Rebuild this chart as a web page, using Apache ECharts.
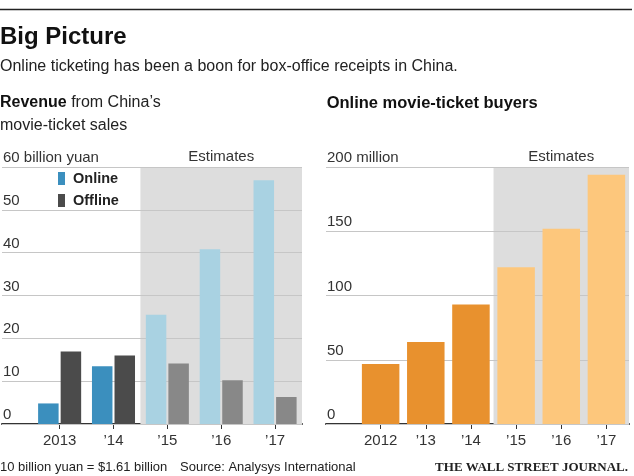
<!DOCTYPE html>
<html>
<head>
<meta charset="utf-8">
<script src="https://cdn.jsdelivr.net/npm/echarts@6/dist/echarts.min.js"></script>
<style>
html,body{margin:0;padding:0;background:#fff;}
#c{width:634px;height:476px;}
</style>
</head>
<body>
<div id="c"></div>
<script>
// ---- data ----
var revenueYears = ['2013', '\u201914', '\u201915', '\u201916', '\u201917'];
var onlineRevenue = [4.8, 13.5, 25.5, 40.8, 56.9];
var offlineRevenue = [16.9, 16.0, 14.1, 10.2, 6.3];
var revenueEstimateStart = 2;

var buyerYears = ['2012', '\u201913', '\u201914', '\u201915', '\u201916', '\u201917'];
var buyers = [46.7, 63.8, 92.9, 121.9, 152, 194];
var buyerEstimateStart = 3;

var revenueTicks = [0, 10, 20, 30, 40, 50, 60];
var buyerTicks = [0, 50, 100, 150, 200];

// ---- styles ----
var FONT = '"Liberation Sans", Arial, sans-serif';
var C = {
  onlineA: '#3b8fbe', onlineE: '#a9d2e2',
  offlineA: '#4b4b4b', offlineE: '#888888',
  buyA: '#e8912e', buyE: '#fdc77c',
  shade: '#dddddd', grid: '#c6c6c6', text: '#333333', axis: '#333333'
};

function colored(vals, start, a, e) {
  return vals.map(function (v, i) {
    return { value: [i, v], itemStyle: { color: i >= start ? e : a } };
  });
}
function idx(n) { var r = []; for (var i = 0; i < n; i++) r.push(i); return r; }

function yAxisCfg(gi, max, interval, topLabel) {
  return {
    type: 'value', gridIndex: gi, min: 0, max: max, interval: interval, z: 1.5,
    axisLine: { show: false }, axisTick: { show: false },
    splitLine: { show: true, lineStyle: { color: C.grid, width: 1 } },
    axisLabel: {
      inside: true, margin: 1, align: 'left', verticalAlign: 'bottom',
      fontFamily: FONT, fontSize: 15, lineHeight: 15, color: C.text,
      padding: [0, 0, 1.5, 0],
      formatter: function (v) { return v === max ? topLabel : String(v); }
    }
  };
}
function xAxisCfg(gi, cats, min, max) {
  var vals = idx(cats.length);
  return {
    type: 'value', gridIndex: gi, min: min, max: max,
    splitLine: { show: false },
    axisLine: { show: true, onZero: false, lineStyle: { color: C.axis, width: 2 } },
    axisTick: { show: true, customValues: vals, length: 5, lineStyle: { color: C.axis, width: 1 } },
    axisLabel: {
      customValues: vals, margin: 9, fontFamily: FONT, fontSize: 15, color: C.text,
      formatter: function (v) { return cats[Math.round(v)]; }
    }
  };
}
function shade(x0, x1, y1) {
  return {
    silent: true, z: 1,
    itemStyle: { color: C.shade },
    label: { show: true, position: 'top', distance: 3, formatter: 'Estimates',
             fontFamily: FONT, fontSize: 15, color: C.text },
    data: [[{ xAxis: x0, yAxis: 0 }, { xAxis: x1, yAxis: y1 }]]
  };
}

var chart = echarts.init(document.getElementById('c'), null, { renderer: 'canvas' });
chart.setOption({
  animation: false,
  backgroundColor: '#ffffff',
  grid: [
    { left: 0, top: 167, width: 302, height: 257 },
    { left: 326, top: 167, width: 303, height: 257 }
  ],
  xAxis: [
    xAxisCfg(0, revenueYears, -1.07, revenueYears.length - 0.5),
    xAxisCfg(1, buyerYears, -1.21, buyerYears.length - 0.5)
  ],
  yAxis: [
    yAxisCfg(0, revenueTicks[revenueTicks.length - 1], revenueTicks[1], '60 billion yuan'),
    yAxisCfg(1, buyerTicks[buyerTicks.length - 1], buyerTicks[1], '200 million')
  ],
  legend: {
    left: 58, top: 171, orient: 'vertical', padding: 0, itemGap: 7,
    itemWidth: 7, itemHeight: 13, icon: 'rect',
    textStyle: { fontFamily: FONT, fontSize: 14.5, fontWeight: 'bold', color: '#222', padding: [0, 0, 0, 3] },
    data: ['Online', 'Offline']
  },
  series: [
    {
      name: 'Online', type: 'bar', xAxisIndex: 0, yAxisIndex: 0,
      barWidth: 20.5, barGap: '10%', z: 2,
      itemStyle: { color: C.onlineA },
      data: colored(onlineRevenue, revenueEstimateStart, C.onlineA, C.onlineE),
      markArea: shade(revenueEstimateStart - 0.5, revenueYears.length - 0.5, 60)
    },
    {
      name: 'Offline', type: 'bar', xAxisIndex: 0, yAxisIndex: 0,
      barWidth: 20.5, barGap: '10%', z: 2,
      itemStyle: { color: C.offlineA },
      data: colored(offlineRevenue, revenueEstimateStart, C.offlineA, C.offlineE)
    },
    {
      name: 'Buyers', type: 'bar', xAxisIndex: 1, yAxisIndex: 1,
      barWidth: 37.5, z: 2,
      itemStyle: { color: C.buyA },
      data: colored(buyers, buyerEstimateStart, C.buyA, C.buyE),
      markArea: shade(buyerEstimateStart - 0.5, buyerYears.length - 0.5, 200)
    }
  ],
  graphic: [
    { type: 'line', shape: { x1: 0, y1: 9.5, x2: 632, y2: 9.5 }, style: { stroke: '#222', lineWidth: 1.5 } },
    { type: 'text', x: 0, y: 37.4, style: { text: 'Big Picture', font: 'bold 24px ' + FONT, fill: '#111', verticalAlign: 'middle' } },
    { type: 'text', x: 0, y: 66.2, style: { text: 'Online ticketing has been a boon for box-office receipts in China.', font: '16px ' + FONT, fill: '#222', verticalAlign: 'middle' } },
    { type: 'text', x: 0, y: 102.5, style: { text: '{b|Revenue} from China\u2019s', font: '16px ' + FONT, fill: '#222', verticalAlign: 'middle',
      rich: { b: { fontWeight: 'bold', fontSize: 16, fontFamily: FONT, fill: '#111' } } } },
    { type: 'text', x: 0, y: 125.2, style: { text: 'movie-ticket sales', font: '16px ' + FONT, fill: '#222', verticalAlign: 'middle' } },
    { type: 'text', x: 326.7, y: 103.2, style: { text: 'Online movie-ticket buyers', font: 'bold 16.5px ' + FONT, fill: '#111', verticalAlign: 'middle' } },
    { type: 'text', x: 0, y: 467, style: { text: '10 billion yuan = $1.61 billion', font: '13px ' + FONT, fill: '#222', verticalAlign: 'middle' } },
    { type: 'text', x: 180, y: 467, style: { text: 'Source: Analysys International', font: '13px ' + FONT, fill: '#222', verticalAlign: 'middle' } },
    { type: 'text', x: 628, y: 468, style: { text: 'THE WALL STREET JOURNAL.', font: 'bold 13px "Liberation Serif", "DejaVu Serif", serif', fill: '#222', align: 'right', verticalAlign: 'middle' } }
  ]
});
</script>
</body>
</html>
